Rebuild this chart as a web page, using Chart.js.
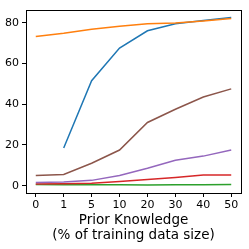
<!DOCTYPE html>
<html><head><meta charset="utf-8">
<script src="https://cdn.jsdelivr.net/npm/chart.js@4"></script>
<style>html,body{margin:0;padding:0;background:#fff}#wrap{width:249px;height:249px}</style>
</head><body><div id="wrap"><canvas id="c" width="249" height="249"></canvas></div>
<script>
const categories = ['0','1','5','10','20','30','40','50'];
const yTicks = [0,20,40,60,80];
const blue   = [null,18.5,51.5,67.5,76,79.5,81,82.5];
const orange = [73.2,74.8,76.8,78.2,79.4,79.8,80.8,82];
const green  = [0.6,0.5,0.4,0.4,0.3,0.4,0.5,0.6];
const red    = [0.8,0.9,1.2,2,3,4,5.2,5.2];
const purple = [1.5,1.8,2.6,5,8.5,12.5,14.5,17.5];
const brown  = [5,5.5,11,17.5,31,37.5,43.5,47.5];
const xTitle = ['Prior Knowledge','(% of training data size)'];

const series = [
  {d: blue, c:'#1f77b4'},
  {d: orange, c:'#ff7f0e'},
  {d: green, c:'#2ca02c'},
  {d: red, c:'#d62728'},
  {d: purple, c:'#9467bd'},
  {d: brown, c:'#8c564b'}
];
const datasets = series.map((s,i)=>({
  data: s.d.map((v,j)=>({x:j,y:v})),
  borderColor: s.c, backgroundColor: s.c, borderWidth: 1.5,
  pointRadius: 0, tension: 0, spanGaps: false, order: series.length - i
}));
const frame = {id:'frame', afterDraw(ch){
  const a = ch.chartArea, g = ch.ctx;
  g.save(); g.strokeStyle='#000'; g.lineWidth=1;
  g.strokeRect(Math.round(a.left)+0.5, Math.round(a.top)+0.5, Math.round(a.right-a.left), Math.round(a.bottom-a.top));
  g.restore();
}};
const font = {family:'DejaVu Sans', size:11};
new Chart(document.getElementById('c'), {
  type:'line',
  data:{datasets},
  options:{
    responsive:false, animation:false, devicePixelRatio:1,
    layout:{padding:{top:7,right:8,left:0,bottom:6}},
    plugins:{legend:{display:false}, tooltip:{enabled:false}},
    scales:{
      x:{type:'linear', min:-0.35, max:7.35,
        afterBuildTicks(s){ s.ticks = categories.map((_,i)=>({value:i})); },
        afterFit(s){ s.height = 50; },
        ticks:{color:'#000', font, padding:2, maxRotation:0, autoSkip:false,
          callback:(v)=>categories[v]},
        grid:{drawOnChartArea:false, color:'#000', tickLength:4, tickWidth:1},
        border:{display:false},
        title:{display:true, text:xTitle, color:'#000', font:{family:'DejaVu Sans', size:13.5, lineHeight:1.12}, padding:{top:1,bottom:0}}
      },
      y:{type:'linear', min:-3.6, max:86.4,
        afterBuildTicks(s){ s.ticks = yTicks.map(v=>({value:v})); },
        afterFit(s){ s.width = 26; },
        ticks:{color:'#000', font, padding:3},
        grid:{drawOnChartArea:false, color:'#000', tickLength:4, tickWidth:1},
        border:{display:false}
      }
    }
  },
  plugins:[frame]
});
</script></body></html>
